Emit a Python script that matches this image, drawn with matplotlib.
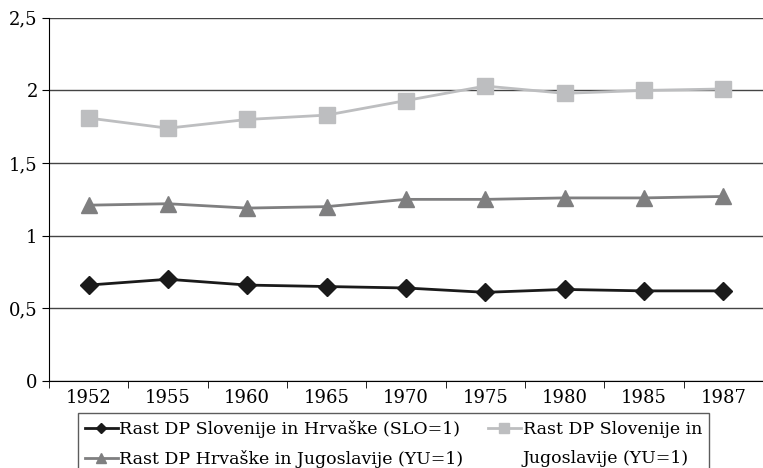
import matplotlib
matplotlib.use("Agg")
import matplotlib.pyplot as plt
from matplotlib.lines import Line2D
from matplotlib.ticker import FuncFormatter, FixedLocator

years = ['1952', '1955', '1960', '1965', '1970', '1975', '1980', '1985', '1987']
slo_hr = [0.66, 0.70, 0.66, 0.65, 0.64, 0.61, 0.63, 0.62, 0.62]
slo_yu = [1.81, 1.74, 1.80, 1.83, 1.93, 2.03, 1.98, 2.00, 2.01]
hr_yu = [1.21, 1.22, 1.19, 1.20, 1.25, 1.25, 1.26, 1.26, 1.27]

labels = ['Rast DP Slovenije in Hrvaške (SLO=1)',
          'Rast DP Slovenije in',
          'Jugoslavije (YU=1)',
          'Rast DP Hrvaške in Jugoslavije (YU=1)']

plt.rcParams['font.family'] = ['DejaVu Serif']

fig = plt.figure(figsize=(7.63, 4.68), dpi=100)
ax = fig.add_axes([0.064, 0.186, 0.936, 0.776])

x = list(range(len(years)))
l1, = ax.plot(x, slo_hr, color='#1a1a1a', lw=2, marker='D', ms=9, zorder=3)
l2, = ax.plot(x, slo_yu, color='#bdbec0', lw=2, marker='s', ms=12, zorder=3)
l3, = ax.plot(x, hr_yu, color='#7f7f80', lw=2, marker='^', ms=12, zorder=3)

ax.set_xlim(-0.5, len(years) - 0.5)
ax.set_ylim(0, 2.5)
ax.set_yticks([0, 0.5, 1, 1.5, 2, 2.5])
ax.yaxis.set_major_formatter(FuncFormatter(lambda v, p: ('%g' % v).replace('.', ',')))
ax.set_xticks(x)
ax.set_xticklabels(years)
ax.xaxis.set_minor_locator(FixedLocator([i - 0.5 for i in range(len(years) + 1)]))
ax.tick_params(axis='x', which='major', length=0, pad=6, labelsize=13)
ax.tick_params(axis='x', which='minor', length=5, color='black')
ax.tick_params(axis='y', length=5, labelsize=13, pad=3)
ax.grid(axis='y', color='#444444', lw=1)
ax.set_axisbelow(True)
for s in ['top', 'right']:
    ax.spines[s].set_visible(False)
ax.spines['left'].set_color('black')
ax.spines['bottom'].set_color('black')

# second line of the wrapped label gets an empty handle
blank = Line2D([], [], color='none')
leg = fig.legend([l1, l3, l2, blank], [labels[0], labels[3], labels[1], labels[2]], ncol=2,
                 loc='upper left', bbox_to_anchor=(0.102, 0.1175), borderaxespad=0,
                 frameon=True, fancybox=False, edgecolor='#333333',
                 handlelength=1.9, handletextpad=0.1, columnspacing=1.4,
                 borderpad=0.4, labelspacing=0.7, markerscale=0.55,
                 prop={'family': 'DejaVu Serif', 'size': 12.5})
leg.get_frame().set_linewidth(1)

fig.savefig('out.png', dpi=100)
